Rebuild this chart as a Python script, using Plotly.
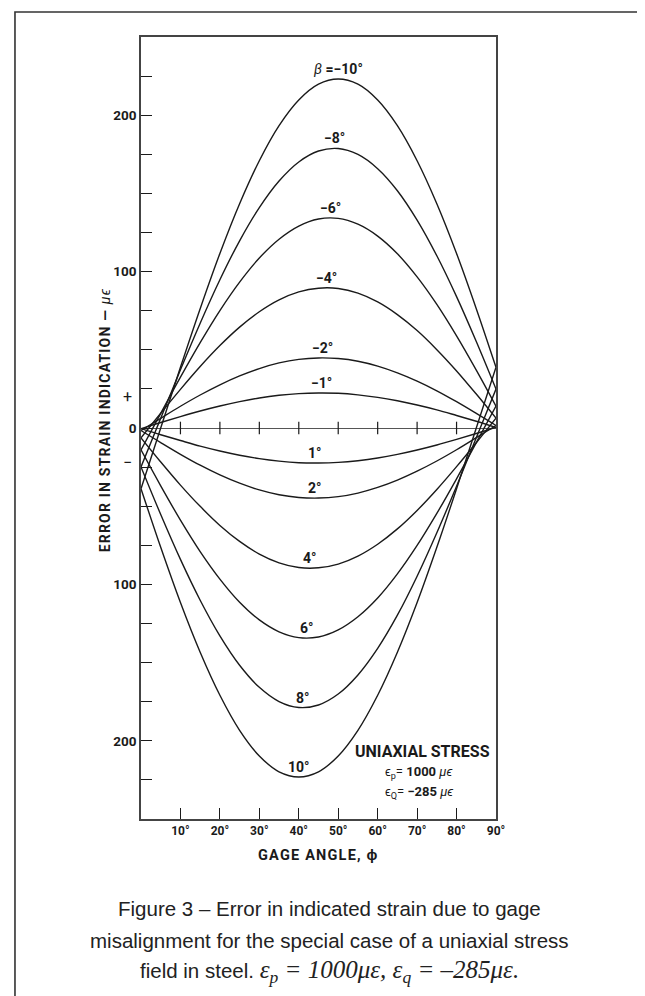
import numpy as np
import plotly.graph_objects as go

# ---------------- data ----------------
phi = [0, 5, 10, 15, 20, 25, 30, 35, 40, 45, 50, 55, 60, 65, 70, 75, 80, 85, 90]

beta_labels = ["β = −10°", "−8°", "−6°", "−4°", "−2°", "−1°",
               "1°", "2°", "4°", "6°", "8°", "10°"]

err_m10 = [-38.8, 0.0, 38.8, 76.3, 111.6, 143.4, 170.9, 193.3, 209.7, 219.8, 223.1, 219.8, 209.7, 193.3, 170.9, 143.4, 111.6, 76.3, 38.8]
err_m8 = [-24.9, 6.2, 37.2, 67.0, 94.8, 119.7, 140.9, 157.9, 170.1, 177.1, 178.7, 174.9, 165.8, 151.7, 132.9, 110.1, 84.0, 55.3, 24.9]
err_m6 = [-14.0, 9.4, 32.5, 54.6, 75.1, 93.3, 108.7, 120.7, 129.1, 133.6, 134.0, 130.3, 122.7, 111.4, 96.6, 79.0, 58.9, 37.0, 14.0]
err_m4 = [-6.3, 9.4, 24.7, 39.3, 52.7, 64.5, 74.3, 81.9, 87.0, 89.4, 89.2, 86.2, 80.6, 72.5, 62.3, 50.1, 36.5, 21.7, 6.3]
err_m2 = [-1.6, 6.2, 13.9, 21.1, 27.6, 33.3, 38.0, 41.6, 43.9, 44.8, 44.4, 42.7, 39.6, 35.3, 30.0, 23.8, 16.8, 9.3, 1.6]
err_m1 = [-0.4, 3.5, 7.3, 10.9, 14.1, 16.9, 19.2, 20.9, 22.0, 22.4, 22.2, 21.2, 19.6, 17.4, 14.7, 11.6, 8.0, 4.3, 0.4]
err_p1 = [-0.4, -4.3, -8.0, -11.6, -14.7, -17.4, -19.6, -21.2, -22.2, -22.4, -22.0, -20.9, -19.2, -16.9, -14.1, -10.9, -7.3, -3.5, 0.4]
err_p2 = [-1.6, -9.3, -16.8, -23.8, -30.0, -35.3, -39.6, -42.7, -44.4, -44.8, -43.9, -41.6, -38.0, -33.3, -27.6, -21.1, -13.9, -6.2, 1.6]
err_p4 = [-6.3, -21.7, -36.5, -50.1, -62.3, -72.5, -80.6, -86.2, -89.2, -89.4, -87.0, -81.9, -74.3, -64.5, -52.7, -39.3, -24.7, -9.4, 6.3]
err_p6 = [-14.0, -37.0, -58.9, -79.0, -96.6, -111.4, -122.7, -130.3, -134.0, -133.6, -129.1, -120.7, -108.7, -93.3, -75.1, -54.6, -32.5, -9.4, 14.0]
err_p8 = [-24.9, -55.3, -84.0, -110.1, -132.9, -151.7, -165.8, -174.9, -178.7, -177.1, -170.1, -157.9, -140.9, -119.7, -94.8, -67.0, -37.2, -6.2, 24.9]
err_p10 = [-38.8, -76.3, -111.6, -143.4, -170.9, -193.3, -209.7, -219.8, -223.1, -219.8, -209.7, -193.3, -170.9, -143.4, -111.6, -76.3, -38.8, 0.0, 38.8]

series = [err_m10, err_m8, err_m6, err_m4, err_m2, err_m1,
          err_p1, err_p2, err_p4, err_p6, err_p8, err_p10]

x_tick_vals = [10, 20, 30, 40, 50, 60, 70, 80, 90]
x_tick_text = ["10°", "20°", "30°", "40°", "50°", "60°", "70°", "80°", "90°"]
y_tick_vals = list(range(-225, 250, 25))
y_label_vals = [-200, -100, 0, 100, 200]
y_label_text = ["200", "100", "0", "100", "200"]

# ---------------- figure ----------------
BOLD = "Liberation Sans Narrow, Arial Narrow, Roboto, Liberation Sans, sans-serif"
INK = "#1a1a1a"

fig = go.Figure()

for vals in series:
    fig.add_trace(go.Scatter(x=phi, y=vals, mode="lines",
                             line=dict(color=INK, width=1.4, shape="spline", smoothing=1.0),
                             hoverinfo="skip", showlegend=False))

# tick marks crossing the zero line
fig.add_trace(go.Scatter(x=x_tick_vals[:-1], y=[0] * (len(x_tick_vals) - 1), mode="markers",
                         marker=dict(symbol="line-ns-open", size=9, color=INK,
                                     line=dict(color=INK, width=1.2)),
                         hoverinfo="skip", showlegend=False))


def extreme(xs, ys):
    xs = np.asarray(xs, float)
    ys = np.asarray(ys, float)
    sign = 1.0 if ys.max() > -ys.min() else -1.0
    i = int(np.argmax(sign * ys))
    i = min(max(i, 1), len(xs) - 2)
    a, b, c = np.polyfit(xs[i - 1:i + 2], ys[i - 1:i + 2], 2)
    xv = -b / (2 * a)
    return xv, a * xv * xv + b * xv + c


annotations = []
for lab, vals in zip(beta_labels, series):
    xv, yv = extreme(phi, vals)
    if lab.startswith("β"):
        txt = "<i>β</i> <b>=−10°</b>"
    else:
        txt = "<b>" + lab + "</b>"
    annotations.append(dict(x=xv, y=yv, text=txt, showarrow=False,
                            xanchor="center", yanchor="bottom", yshift=0,
                            font=dict(family=BOLD, size=14, color=INK)))

# + / − marks beside the axis
annotations.append(dict(xref="paper", x=0, y=20, text="+", showarrow=False, xanchor="right",
                        xshift=-7, font=dict(family=BOLD, size=16, color=INK)))
annotations.append(dict(xref="paper", x=0, y=-22, text="−", showarrow=False, xanchor="right",
                        xshift=-7, font=dict(family=BOLD, size=16, color=INK)))

SP = "<span style='letter-spacing:1.2px'>"
# axis titles
annotations.append(dict(xref="paper", yref="paper", x=-0.101, y=0.51, textangle=-90,
                        text=SP + "<b>ERROR IN STRAIN INDICATION — </b><i>μϵ</i></span>",
                        showarrow=False, xanchor="center", yanchor="middle",
                        font=dict(family=BOLD, size=14, color=INK)))
annotations.append(dict(xref="paper", yref="paper", x=0.5, y=-0.047,
                        text=SP + "<b>GAGE ANGLE, ϕ</b></span>", showarrow=False,
                        xanchor="center", yanchor="middle",
                        font=dict(family=BOLD, size=14.5, color=INK)))

# stress-state note
annotations.append(dict(xref="paper", yref="paper", x=0.99, y=0.086,
                        text="<b>UNIAXIAL STRESS</b>", showarrow=False,
                        xanchor="right", yanchor="middle",
                        font=dict(family=BOLD, size=16, color=INK)))
annotations.append(dict(xref="paper", yref="paper", x=0.682, y=0.0595,
                        text="ϵ<sub>p</sub>= <b>1000</b> <i>μϵ</i>", showarrow=False,
                        xanchor="left", yanchor="middle",
                        font=dict(family=BOLD, size=13, color=INK)))
annotations.append(dict(xref="paper", yref="paper", x=0.682, y=0.034,
                        text="ϵ<sub>Q</sub>= <b>−285</b> <i>μϵ</i>", showarrow=False,
                        xanchor="left", yanchor="middle",
                        font=dict(family=BOLD, size=13, color=INK)))

# caption
CAP = "Liberation Sans, Arial, sans-serif"
cap_lines = [
    "Figure 3 – Error in indicated strain due to gage",
    "misalignment for the special case of a uniaxial stress",
    "field in steel. <span style=\"font-family:'Liberation Serif', serif; font-size:25px\">"
    "<i>ε<sub>p</sub> = 1000με, ε<sub>q</sub> = –285με.</i></span>",
]
cap_y = [-0.114, -0.155, -0.195]
for t, yy in zip(cap_lines, cap_y):
    annotations.append(dict(xref="paper", yref="paper", x=0.53, y=yy, text=t,
                            showarrow=False, xanchor="center", yanchor="middle",
                            font=dict(family=CAP, size=20.5, color="#222")))

shapes = [dict(type="rect", xref="paper", yref="paper",
               x0=-0.355, x1=1.431, y0=-0.25, y1=1.032,
               line=dict(color="#333", width=1.6), fillcolor="rgba(0,0,0,0)", layer="below")]

fig.update_layout(
    width=645, height=996,
    margin=dict(l=133, r=157, t=29, b=185),
    paper_bgcolor="white", plot_bgcolor="white",
    showlegend=False,
    annotations=annotations,
    shapes=shapes,
    xaxis=dict(range=[0, 90], tickmode="array", tickvals=x_tick_vals, ticktext=x_tick_text,
               ticks="inside", ticklen=11, tickwidth=1.2, tickcolor=INK,
               showgrid=False, zeroline=False, showline=True, linecolor="#444", linewidth=1.6,
               mirror=True, tickfont=dict(family=BOLD, size=12, color=INK, weight="bold")),
    yaxis=dict(range=[-250, 250], tickmode="array", tickvals=y_tick_vals,
               ticktext=[y_label_text[y_label_vals.index(v)] if v in y_label_vals else ""
                         for v in y_tick_vals],
               ticks="inside", ticklen=11, tickwidth=1.2, tickcolor=INK,
               showgrid=False, zeroline=True, zerolinecolor="#555", zerolinewidth=1,
               showline=True, linecolor="#444", linewidth=1.6, mirror=True,
               tickfont=dict(family=BOLD, size=13.5, color=INK, weight="bold")),
)

fig.write_html("out.html")
